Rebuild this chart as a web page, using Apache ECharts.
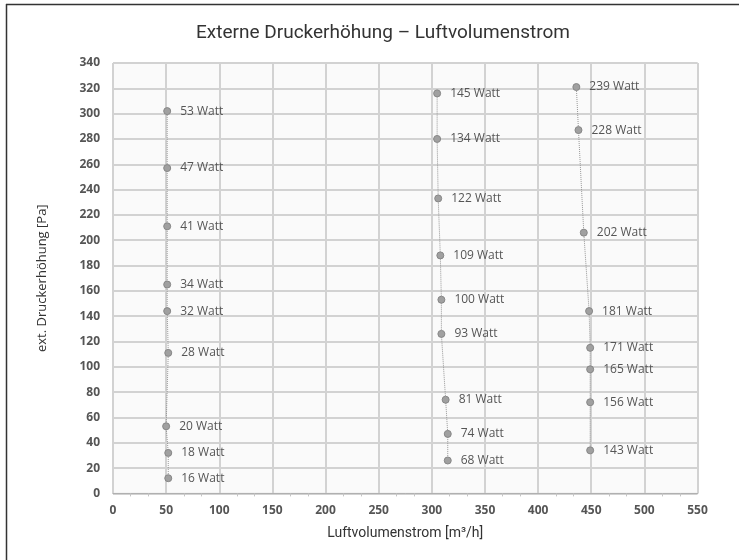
<!DOCTYPE html>
<html>
<head>
<meta charset="utf-8">
<script src="https://cdn.jsdelivr.net/npm/echarts@6/dist/echarts.min.js"></script>
<style>
html,body{margin:0;padding:0;background:#fff;}
#chart{width:739px;height:560px;}
</style>
</head>
<body>
<div id="chart"></div>
<script>
// Series 1 (~50 m³/h)
const s1Flow = [51, 51, 51, 51, 51, 52, 50, 52, 52];
const s1Pressure = [302, 257, 211, 165, 144, 111, 53, 32, 12];
const s1Watt = [53, 47, 41, 34, 32, 28, 20, 18, 16];
// Series 2 (~310 m³/h)
const s2Flow = [305, 305, 306, 308, 309, 309, 313, 315, 315];
const s2Pressure = [316, 280, 233, 188, 153, 126, 74, 47, 26];
const s2Watt = [145, 134, 122, 109, 100, 93, 81, 74, 68];
// Series 3 (~450 m³/h)
const s3Flow = [436, 438, 443, 448, 449, 449, 449, 449];
const s3Pressure = [321, 287, 206, 144, 115, 98, 72, 34];
const s3Watt = [239, 228, 202, 181, 171, 165, 156, 143];

const titleText = 'Externe Druckerhöhung – Luftvolumenstrom';
const xName = 'Luftvolumenstrom [m³/h]';
const yName = 'ext. Druckerhöhung [Pa]';

function build(flow, pres, watt) {
  return flow.map((f, i) => ({ value: [f, pres[i]], watt: watt[i] }));
}

function mkSeries(flow, pres, watt) {
  return {
    type: 'line',
    data: build(flow, pres, watt),
    symbol: 'circle',
    symbolSize: 7,
    itemStyle: { color: '#a0a0a0', borderColor: '#878787', borderWidth: 1 },
    lineStyle: { color: '#979797', width: 1, type: 'dotted' },
    label: {
      show: true,
      position: 'right',
      distance: 9,
      formatter: p => p.data.watt + ' Watt',
      color: '#555',
      fontFamily: 'Open Sans',
      fontSize: 12
    },
    emphasis: { disabled: true },
    animation: false
  };
}

const chart = echarts.init(document.getElementById('chart'), null, { renderer: 'canvas' });
chart.setOption({
  backgroundColor: '#ffffff',
  title: {
    text: titleText,
    left: 378,
    textAlign: 'center',
    top: 19,
    textStyle: { fontFamily: 'Roboto, sans-serif', fontSize: 19, fontWeight: 'normal', color: '#333' }
  },
  graphic: [
    { type: 'line', shape: { x1: 6, y1: 4.5, x2: 739, y2: 4.5 }, style: { stroke: '#333', lineWidth: 1.5 }, silent: true },
    { type: 'line', shape: { x1: 6.5, y1: 4, x2: 6.5, y2: 560 }, style: { stroke: '#333', lineWidth: 1.5 }, silent: true }
  ],
  grid: {
    left: 113, right: 41.5, top: 63, bottom: 66.6,
    show: true, backgroundColor: '#fafafa', borderColor: '#c4c4c4', borderWidth: 1
  },
  xAxis: {
    type: 'value',
    min: 0, max: 550, interval: 50,
    name: xName,
    nameLocation: 'middle',
    nameGap: 33,
    nameTextStyle: { fontFamily: 'Roboto, sans-serif', fontSize: 14, color: '#333' },
    axisLine: { show: true, lineStyle: { color: '#b0b0b0', width: 1 } },
    axisTick: { show: false },
    minorTick: { show: true, splitNumber: 3, length: 3, lineStyle: { color: '#c4c4c4' } },
    axisLabel: { fontFamily: 'Open Sans, sans-serif', fontWeight: 'bold', fontSize: 12, color: '#555', margin: 11 },
    splitLine: { show: true, lineStyle: { color: '#d2d2d2', width: 2 } }
  },
  yAxis: {
    type: 'value',
    min: 0, max: 340, interval: 20,
    name: yName,
    nameLocation: 'middle',
    nameGap: 64,
    nameTextStyle: { fontFamily: 'Open Sans, sans-serif', fontSize: 13, color: '#333' },
    axisLine: { show: false },
    axisTick: { show: false },
    axisLabel: { fontFamily: 'Open Sans, sans-serif', fontWeight: 'bold', fontSize: 12, color: '#555', margin: 13 },
    splitLine: { show: true, lineStyle: { color: '#d2d2d2', width: 2 } }
  },
  series: [
    mkSeries(s1Flow, s1Pressure, s1Watt),
    mkSeries(s2Flow, s2Pressure, s2Watt),
    mkSeries(s3Flow, s3Pressure, s3Watt)
  ]
});
</script>
</body>
</html>
